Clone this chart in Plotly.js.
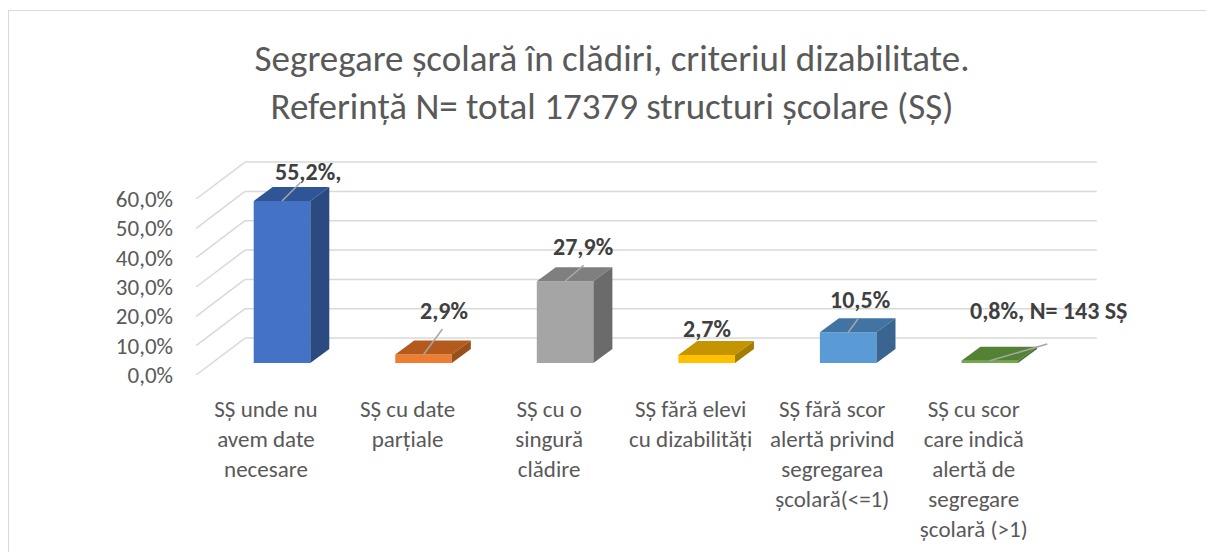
<!DOCTYPE html>
<html>
<head>
<meta charset="utf-8">
<script src="https://cdn.plot.ly/plotly-3.0.1.min.js"></script>
<style>
  html, body { margin: 0; padding: 0; background: #ffffff; }
  #wrap { position: relative; width: 1206px; height: 552px; }
  #chart { position: absolute; left: 0; top: 0; width: 1206px; height: 552px; }
  #frame { position: absolute; left: 8px; top: 10px; right: 0; bottom: 0;
           border-left: 1px solid #d9d9d9; border-top: 1px solid #d9d9d9; pointer-events: none; }
</style>
</head>
<body>
<div id="wrap"><div id="chart"></div><div id="frame"></div></div>
<script>
// ---- data ----
const categories = [
  "SȘ unde nu<br>avem date<br>necesare",
  "SȘ cu date<br>parțiale",
  "SȘ cu o<br>singură<br>clădire",
  "SȘ fără elevi<br>cu dizabilități",
  "SȘ fără scor<br>alertă privind<br>segregarea<br>școlară(&lt;=1)",
  "SȘ cu scor<br>care indică<br>alertă de<br>segregare<br>școlară (&gt;1)"
];
const values = [55.2, 2.9, 27.9, 2.7, 10.5, 0.8];
const valueLabels = ["55,2%,", "2,9%", "27,9%", "2,7%", "10,5%", "0,8%, N= 143 SȘ"];
const yTickVals = [0, 10, 20, 30, 40, 50, 60];
const yTickText = ["0,0%", "10,0%", "20,0%", "30,0%", "40,0%", "50,0%", "60,0%"];

// ---- styles ----
const frontColors = ["#4472C4", "#ED7D31", "#A5A5A5", "#FFC000", "#5B9BD5", "#70AD47"];
const topColors   = ["#2F5597", "#B45A1E", "#7F7F7F", "#C49500", "#4274A3", "#548235"];
const sideColors  = ["#2A4A80", "#97501A", "#6B6B6B", "#A47C00", "#3A6590", "#4A722F"];
// label placement (pixel offsets from bar top-front-center)
const labelShift = [[26, 30], [20, 44], [18, 35], [0, 27], [12, 33], [59, 50]];
const leaderLine = [[20, -20], [20, -27], [20, -17], null, [11, -15], [59, -17]];

const FONT = "Carlito, Lato, 'Open Sans', sans-serif";
const idx = categories.map((_, i) => i);
const barWidth = 0.4;
const depthX = 0.134;   // x-units
const depthY = 4.77;    // %-units
const backShift = 12.6; // back wall offset in %-units
const gridX0 = -0.261, gridX1 = 5.756, floorFrontX = -0.607;

const shapes = [];
// back wall gridlines and left wall slanted lines
yTickVals.forEach(v => {
  shapes.push({type: 'line', xref: 'x', yref: 'y', x0: gridX0, x1: gridX1, y0: v + backShift, y1: v + backShift,
               line: {color: '#d9d9d9', width: 1.5}, layer: 'below'});
  shapes.push({type: 'line', xref: 'x', yref: 'y', x0: floorFrontX, x1: gridX0, y0: v, y1: v + backShift,
               line: {color: '#d9d9d9', width: 1.5}, layer: 'below'});
});
// 3D faces of the bars
values.forEach((v, i) => {
  const xl = i - barWidth / 2, xr = i + barWidth / 2;
  shapes.push({type: 'path', xref: 'x', yref: 'y2', layer: 'above',
    path: `M ${xl},${v} L ${xl + depthX},${v + depthY} L ${xr + depthX},${v + depthY} L ${xr},${v} Z`,
    fillcolor: topColors[i], line: {width: 0}});
  shapes.push({type: 'path', xref: 'x', yref: 'y2', layer: 'above',
    path: `M ${xr},0 L ${xr + depthX},${depthY} L ${xr + depthX},${v + depthY} L ${xr},${v} Z`,
    fillcolor: sideColors[i], line: {width: 0}});
});

const annotations = [];
values.forEach((v, i) => {
  if (leaderLine[i]) {
    annotations.push({x: i, y: v, xref: 'x', yref: 'y2', text: '', showarrow: true,
      ax: leaderLine[i][0], ay: leaderLine[i][1], arrowhead: 0, arrowwidth: 1.5,
      arrowcolor: '#a6a6a6', standoff: 0, startstandoff: 0});
  }
  annotations.push({x: i, y: v, xref: 'x', yref: 'y2', text: valueLabels[i], showarrow: false,
    xshift: labelShift[i][0], yshift: labelShift[i][1],
    font: {family: FONT, size: 24, color: '#404040', weight: 700}});
});

const trace = {
  type: 'bar', x: idx, y: values, yaxis: 'y2', width: barWidth,
  marker: {color: frontColors, line: {width: 0}}, hoverinfo: 'skip', showlegend: false
};

const layout = {
  width: 1206, height: 552,
  margin: {l: 190, r: 103, t: 150, b: 167},
  paper_bgcolor: '#ffffff', plot_bgcolor: 'rgba(0,0,0,0)',
  font: {family: FONT, color: '#595959'},
  title: {
    text: "Segregare școlară în clădiri, criteriul dizabilitate.<br>Referință N= total 17379 structuri școlare (SȘ)",
    font: {family: FONT, size: 37, color: '#595959'},
    x: 0.5075, xref: 'container', xanchor: 'center',
    y: 0.872, yref: 'container', yanchor: 'middle'
  },
  xaxis: {
    range: [-0.65, 5.8], tickvals: idx, ticktext: categories,
    showgrid: false, zeroline: false, showline: false, ticks: '',
    tickfont: {family: FONT, size: 23, color: '#595959'}, tickangle: 0,
    ticklabelshift: -16, ticklabelstandoff: 8, fixedrange: true
  },
  yaxis: {
    range: [-3.41, 76.71], tickvals: yTickVals, ticktext: yTickText,
    showgrid: false, zeroline: false, showline: false, ticks: '',
    tickfont: {family: FONT, size: 23, color: '#595959'},
    ticklabelstandoff: 16, fixedrange: true
  },
  yaxis2: {
    range: [-7.50, 72.62], overlaying: 'y', visible: false, fixedrange: true
  },
  shapes: shapes,
  annotations: annotations,
  bargap: 0.6
};

Plotly.newPlot('chart', [trace], layout, {displayModeBar: false, staticPlot: true});
</script>
</body>
</html>
